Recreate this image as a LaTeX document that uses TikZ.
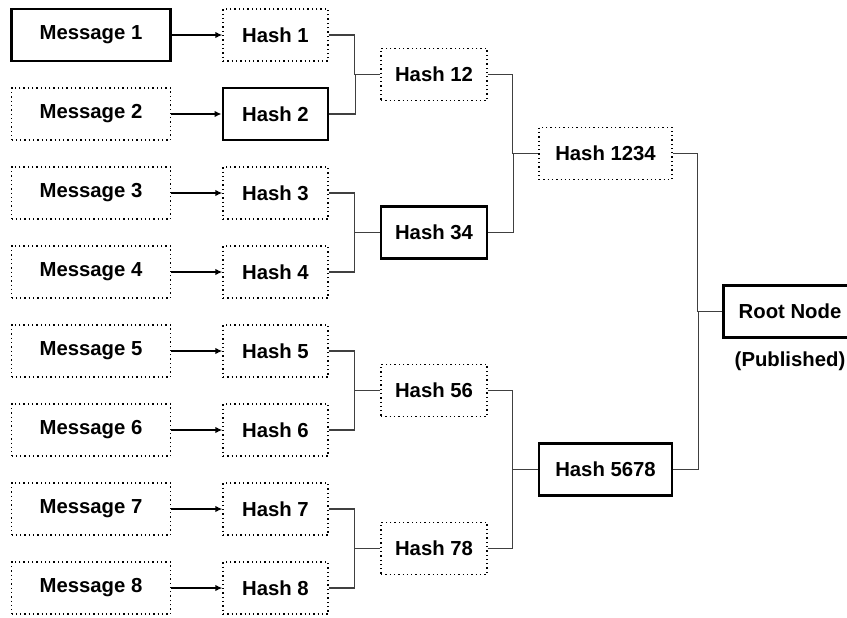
\documentclass[tikz,border=0pt]{standalone}
\usepackage{fontspec}
\setmainfont{Liberation Sans}
\usetikzlibrary{arrows.meta}

\tikzset{
  boxtext/.style={font=\bfseries\fontsize{20.3}{24}\selectfont, inner sep=0pt, minimum height=52pt},
  solidbox/.style={boxtext, draw, rectangle, line width=2.8pt},
  dotbox/.style={boxtext, draw, rectangle, line width=1.3pt, dash pattern=on 1.3pt off 3pt},
  link/.style={line width=1.5pt, draw=black!75},
  feed/.style={arrows={-Latex[length=7pt,width=6.5pt]}, line width=1.5pt},
}

\begin{document}
\begin{tikzpicture}[x=1pt,y=-1pt]
\useasboundingbox (0,0) rectangle (847,618);

% messages
\node[solidbox, minimum width=159pt] at (91,35) (m1) {Message 1};
\node[dotbox, minimum width=159pt] at (91,114) (m2) {Message 2};
\node[dotbox, minimum width=159pt] at (91,193) (m3) {Message 3};
\node[dotbox, minimum width=159pt] at (91,272) (m4) {Message 4};
\node[dotbox, minimum width=159pt] at (91,351) (m5) {Message 5};
\node[dotbox, minimum width=159pt] at (91,430) (m6) {Message 6};
\node[dotbox, minimum width=159pt] at (91,509) (m7) {Message 7};
\node[dotbox, minimum width=159pt] at (91,588) (m8) {Message 8};

% leaf hashes
\node[dotbox, minimum width=105pt] at (275.5,35) (h1) {Hash 1};
\node[solidbox, minimum width=105pt] at (275.5,114) (h2) {Hash 2};
\node[dotbox, minimum width=105pt] at (275.5,193) (h3) {Hash 3};
\node[dotbox, minimum width=105pt] at (275.5,272) (h4) {Hash 4};
\node[dotbox, minimum width=105pt] at (275.5,351) (h5) {Hash 5};
\node[dotbox, minimum width=105pt] at (275.5,430) (h6) {Hash 6};
\node[dotbox, minimum width=105pt] at (275.5,509) (h7) {Hash 7};
\node[dotbox, minimum width=105pt] at (275.5,588) (h8) {Hash 8};

% inner hashes
\node[dotbox, minimum width=106pt] at (434,74.5) (h12) {Hash 12};
\node[solidbox, minimum width=106pt] at (434,232.5) (h34) {Hash 34};
\node[dotbox, minimum width=106pt] at (434,390.5) (h56) {Hash 56};
\node[dotbox, minimum width=106pt] at (434,548.5) (h78) {Hash 78};
\node[dotbox, minimum width=133pt] at (605.5,153.5) (h1234) {Hash 1234};
\node[solidbox, minimum width=133pt] at (605.5,469.5) (h5678) {Hash 5678};

% root
\node[solidbox, minimum width=133pt] at (790,311.5) (root) {Root Node};
\node[font=\bfseries\fontsize{20.3}{24}\selectfont] at (790,361) (pub) {(Published)};

\draw[feed] (m1) to (h1);
\draw[feed] (m2) to (h2);
\draw[feed] (m3) to (h3);
\draw[feed] (m4) to (h4);
\draw[feed] (m5) to (h5);
\draw[feed] (m6) to (h6);
\draw[feed] (m7) to (h7);
\draw[feed] (m8) to (h8);

\draw[link] (h1.east) -- ++(26,0) |- (h12.west);
\draw[link] (h2.east) -- ++(26,0) |- (h12.west);
\draw[link] (h3.east) -- ++(26,0) |- (h34.west);
\draw[link] (h4.east) -- ++(26,0) |- (h34.west);
\draw[link] (h5.east) -- ++(26,0) |- (h56.west);
\draw[link] (h6.east) -- ++(26,0) |- (h56.west);
\draw[link] (h7.east) -- ++(26,0) |- (h78.west);
\draw[link] (h8.east) -- ++(26,0) |- (h78.west);

\draw[link] (h12.east) -- ++(25,0) |- (h1234.west);
\draw[link] (h34.east) -- ++(25,0) |- (h1234.west);
\draw[link] (h56.east) -- ++(25,0) |- (h5678.west);
\draw[link] (h78.east) -- ++(25,0) |- (h5678.west);

\draw[link] (h1234.east) -- ++(25,0) |- (root.west);
\draw[link] (h5678.east) -- ++(25,0) |- (root.west);
\end{tikzpicture}
\end{document}
